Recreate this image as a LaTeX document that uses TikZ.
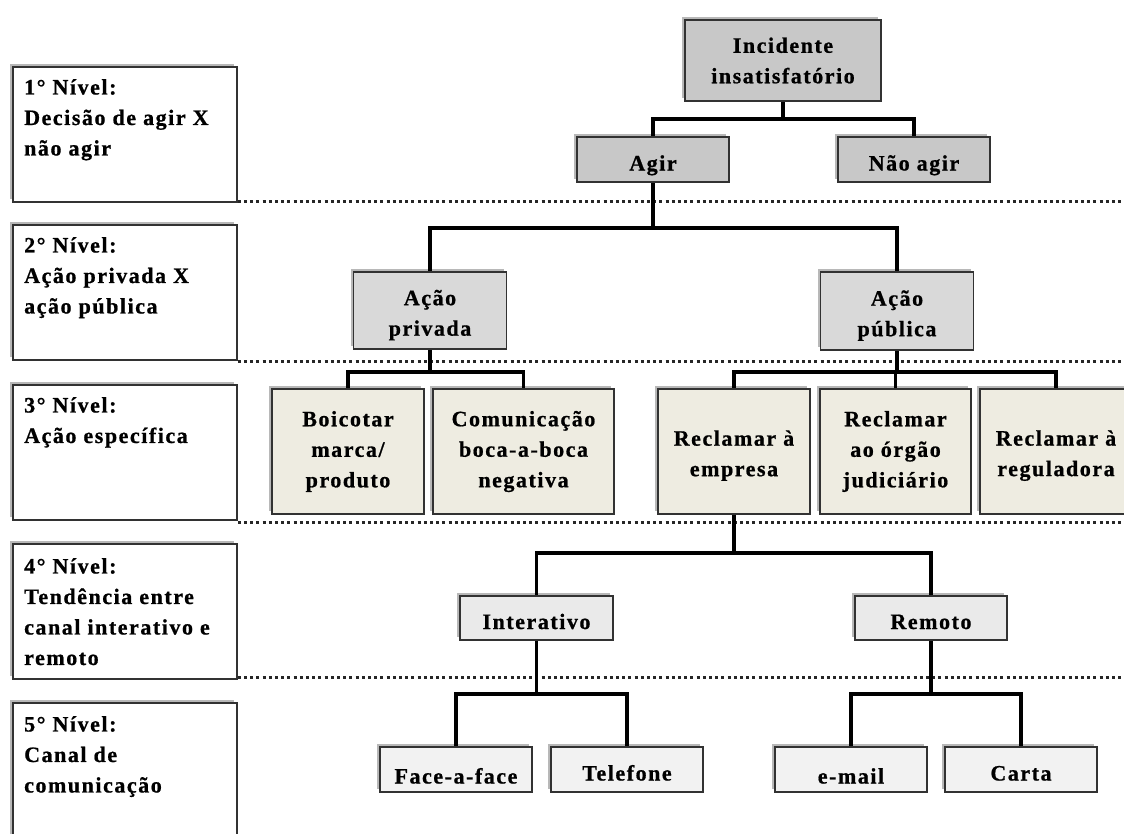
\documentclass[tikz,border=0pt]{standalone}
\usepackage{fontspec}
\setmainfont{Liberation Serif}[LetterSpace=7, BoldFeatures={FakeBold=0.8}]
\usetikzlibrary{shadows}
\definecolor{cA}{RGB}{200,200,200}
\definecolor{cB}{RGB}{217,217,217}
\definecolor{cC}{RGB}{238,236,225}
\definecolor{cD}{RGB}{234,234,234}
\definecolor{cE}{RGB}{242,242,242}
\definecolor{edge}{RGB}{50,50,50}
\begin{document}
\begin{tikzpicture}[x=1pt,y=-1pt,
  txt/.style={font=\fontsize{22}{30.5}\selectfont\bfseries},
  shad/.style={drop shadow={shadow xshift=-3pt, shadow yshift=3pt, fill=black, opacity=0.28}},
  box/.style={txt, shad, draw=edge, line width=1.8pt, align=center, inner sep=0pt},
  one/.style={text height=22pt, text depth=0pt},
  onelow/.style={text height=28pt, text depth=0pt},
  lbox/.style={shad, draw=edge, fill=white, line width=1.8pt, inner sep=0pt, anchor=north west, minimum width=224, minimum height=135},
  ltxt/.style={txt, align=left, anchor=north west, inner sep=0pt},
  conn/.style={line width=3.8pt, black},
  sep/.style={line width=3pt, dash pattern=on 3pt off 3.2pt, black!85}
]
\useasboundingbox (0,0) rectangle (1124,833);
\clip (0,0) rectangle (1124,833);
\fill[white] (0,0) rectangle (1124,833);

% left level boxes
\node[lbox] (l1) at (12,66) {};
\node[lbox] (l2) at (12,224) {};
\node[lbox] (l3) at (12,384) {};
\node[lbox] (l4) at (12,543) {};
\node[lbox] (l5) at (12,702) {};
\node[ltxt] (l1t) at (24,79) {1° Nível:\\Decisão de agir X\\não agir};
\node[ltxt] (l2t) at (24,237) {2° Nível:\\Ação privada X\\ação pública};
\node[ltxt] (l3t) at (24,397) {3° Nível:\\Ação específica};
\node[ltxt] (l4t) at (24,558) {4° Nível:\\Tendência entre\\canal interativo\hspace{7pt}e\\remoto};
\node[ltxt] (l5t) at (24,716) {5° Nível:\\Canal de\\comunicação};

% dotted separators
\coordinate (e1) at (1124,201);
\coordinate (e2) at (1124,361);
\coordinate (e3) at (1124,522);
\coordinate (e4) at (1124,677);
\draw[sep] (l1.south east |- e1) -- (e1);
\draw[sep] (l2.south east |- e2) -- (e2);
\draw[sep] (l3.south east |- e3) -- (e3);
\draw[sep] (l4.south east |- e4) -- (e4);

% tree nodes
\node[box, fill=cA, minimum width=196, minimum height=81] (inc) at (783,60.5) {Incidente\\insatisfatório};
\node[box, one, fill=cA, minimum width=152, minimum height=45] (agir) at (653,159.5) {Agir};
\node[box, one, fill=cA, minimum width=152, minimum height=45] (nao) at (914,159.5) {Não agir};

\node[box, fill=cB, text height=55pt, minimum width=153, minimum height=77] (priv) at (430,310.5) {Ação\\privada};
\node[box, fill=cB, text height=55pt, minimum width=153, minimum height=78] (pub) at (897,311) {Ação\\pública};

\node[box, fill=cC, minimum width=152, minimum height=125] (boi) at (348,451.5) {Boicotar\\marca/\\produto};
\node[box, fill=cC, minimum width=181, minimum height=125] (com) at (523.5,451.5) {Comunicação\\boca-a-boca\\negativa};
\node[box, fill=cC, text height=54pt, minimum width=152, minimum height=125] (emp) at (734,451.5) {Reclamar à\\empresa};
\node[box, fill=cC, minimum width=151, minimum height=125] (jud) at (895.5,451.5) {Reclamar\\ao órgão\\judiciário};
\node[box, fill=cC, text height=54pt, minimum width=152, minimum height=125] (reg) at (1056,451.5) {Reclamar à\\reguladora};

\node[box, one, fill=cD, minimum width=153, minimum height=44] (int) at (536.5,618) {Interativo};
\node[box, one, fill=cD, minimum width=152, minimum height=44] (remo) at (931,618) {Remoto};

\node[box, onelow, fill=cE, minimum width=152, minimum height=45] (face) at (456,769.5) {Face-a-face};
\node[box, one, fill=cE, minimum width=152, minimum height=45] (tel) at (627,769.5) {Telefone};
\node[box, onelow, fill=cE, minimum width=152, minimum height=45] (mail) at (851,769.5) {e-mail};
\node[box, one, fill=cE, minimum width=152, minimum height=45] (carta) at (1021,769.5) {Carta};

% connectors
\coordinate (j1) at (0,119);
\coordinate (j2) at (0,228);
\coordinate (j3) at (0,372);
\coordinate (j4) at (0,553);
\coordinate (j5) at (0,694);
\draw[conn] (inc.south) -- (inc.south |- j1) -| (agir.north);
\draw[conn] (inc.south |- j1) -| (nao.north);
\draw[conn] (agir.south) -- (agir.south |- j2) -| (priv.north);
\draw[conn] (agir.south |- j2) -| (pub.north);
\draw[conn] (priv.south) -- (priv.south |- j3) -| (boi.north);
\draw[conn] (priv.south |- j3) -| (com.north);
\draw[conn] (pub.south) -- (pub.south |- j3) -| (emp.north);
\draw[conn] (pub.south |- j3) -| (reg.north);
\draw[conn] (jud.north) -- (jud.north |- j3);
\draw[conn] (emp.south) -- (emp.south |- j4) -| (int.north);
\draw[conn] (emp.south |- j4) -| (remo.north);
\draw[conn] (int.south) -- (int.south |- j5) -| (face.north);
\draw[conn] (int.south |- j5) -| (tel.north);
\draw[conn] (remo.south) -- (remo.south |- j5) -| (mail.north);
\draw[conn] (remo.south |- j5) -| (carta.north);
\end{tikzpicture}
\end{document}
